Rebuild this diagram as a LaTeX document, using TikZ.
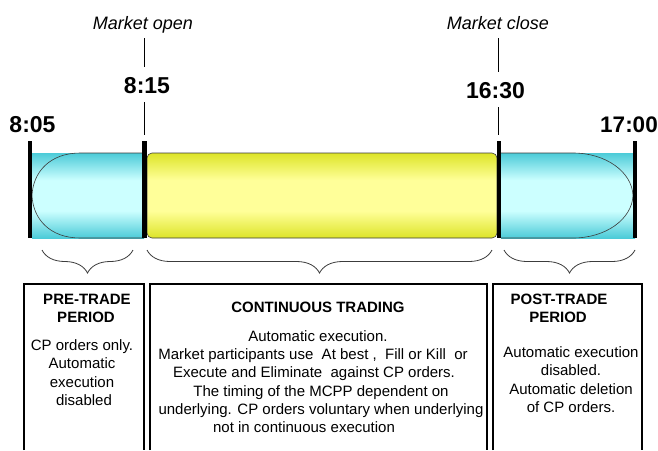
\documentclass[tikz,border=0pt]{standalone}
\usepackage{fontspec}
\setmainfont{Liberation Sans}
\usetikzlibrary{decorations.pathreplacing}

\definecolor{cyanedge}{HTML}{4CCBD8}
\definecolor{cyanlight}{HTML}{CCFFFF}
\definecolor{yellowedge}{HTML}{DDE428}
\definecolor{yellowlight}{HTML}{FFFF99}
\definecolor{rimgray}{HTML}{3C3C3C}

% bands that are darker at the top and bottom edges and light in the middle
% (a shaded path covers the 25bp--75bp part of the shading)
\pgfdeclareverticalshading{cyanband}{100bp}{color(0bp)=(cyanedge); color(25bp)=(cyanedge); color(41bp)=(cyanlight); color(59bp)=(cyanlight); color(75bp)=(cyanedge); color(100bp)=(cyanedge)}
\pgfdeclareverticalshading{yellowband}{100bp}{color(0bp)=(yellowedge); color(25bp)=(yellowedge); color(41bp)=(yellowlight); color(59bp)=(yellowlight); color(75bp)=(yellowedge); color(100bp)=(yellowedge)}

\begin{document}
\begin{tikzpicture}[x=1pt,y=-1pt,
  timelbl/.style={font=\bfseries\fontsize{23}{23}\selectfont, inner sep=0pt, anchor=base},
  marketlbl/.style={font=\itshape\fontsize{18}{18}\selectfont, inner sep=0pt, anchor=base},
  headlbl/.style={font=\bfseries\fontsize{15}{18}\selectfont, inner sep=0pt, anchor=base},
  bodylbl/.style={font=\fontsize{15}{18}\selectfont, inner sep=0pt, anchor=base},
  tickline/.style={line width=0.9pt},
  barline/.style={line width=4.5pt},
  rim/.style={draw=rimgray, line width=0.6pt},
  panel/.style={line width=1.2pt},
  bracket/.style={draw=rimgray, line width=0.8pt, decorate,
    decoration={brace, mirror, amplitude=23pt}}
]
\useasboundingbox (0,0) rectangle (658,450);

% market open / close markers
\node[marketlbl] (mopen)  at (143,29) {Market open};
\node[marketlbl] (mclose) at (498,29) {Market close};
\coordinate (openA) at (144,38);  \coordinate (openB) at (144,67);
\coordinate (openC) at (144,102); \coordinate (openD) at (144,135);
\coordinate (closeA) at (498,38);  \coordinate (closeB) at (498,72);
\coordinate (closeC) at (498,107); \coordinate (closeD) at (498,135);
\draw[tickline] (openA) -- (openB);
\draw[tickline] (openC) -- (openD);
\draw[tickline] (closeA) -- (closeB);
\draw[tickline] (closeC) -- (closeD);

% times
\node[timelbl] (t805)  at (32.5,132) {8:05};
\node[timelbl] (t815)  at (147,93)   {8:15};
\node[timelbl] (t1630) at (495.5,98) {16:30};
\node[timelbl, font=\bfseries\fontsize{22.5}{22.5}\selectfont] (t1700) at (629,132) {17:00};

% pre-trade band
\shade[shading=cyanband] (32,153) rectangle (144,238);
\draw[rim] (144,153) -- (80,153) .. controls (50,153) and (33,172) .. (32,195.5)
  .. controls (33,219) and (50,238) .. (80,238) -- (144,238);

% continuous trading band
\shade[shading=yellowband, rounded corners=5pt] (147,153) rectangle (497,238);
\draw[rim, rounded corners=5pt] (147,153) rectangle (497,238);

% post-trade band
\shade[shading=cyanband] (501,153) rectangle (635,238);
\draw[rim] (501,153) -- (573,153) .. controls (606,153) and (632,172) .. (633,195.5)
  .. controls (632,219) and (606,238) .. (573,238) -- (501,238);

% period boundaries
\coordinate (b1t) at (30,141);    \coordinate (b1b) at (30,238);
\coordinate (b2t) at (144.5,141); \coordinate (b2b) at (144.5,238);
\coordinate (b3t) at (499,141);   \coordinate (b3b) at (499,238);
\coordinate (b4t) at (635,141);   \coordinate (b4b) at (635,238);
\draw[barline] (b1t) -- (b1b);
\draw[barline] (b2t) -- (b2b);
\draw[barline] (b3t) -- (b3b);
\draw[barline] (b4t) -- (b4b);

% braces under the periods
\coordinate (brA1) at (42,250);  \coordinate (brA2) at (133,250);
\coordinate (brB1) at (147,250); \coordinate (brB2) at (492,250);
\coordinate (brC1) at (504,250); \coordinate (brC2) at (635,250);
\draw[bracket] (brA1) -- (brA2);
\draw[bracket] (brB1) -- (brB2);
\draw[bracket] (brC1) -- (brC2);

% description panels, open at the bottom
\draw[panel] (24,450) -- (24,284) -- (144,284) -- (144,450);
\draw[panel] (150,450) -- (150,284) -- (487,284) -- (487,450);
\draw[panel] (493,450) -- (493,284) -- (642,284) -- (642,450);

% pre-trade text
\node[headlbl] (preA) at (87,304) {PRE-TRADE};
\node[headlbl] (preB) at (86,322) {PERIOD};
\node[bodylbl] (pre1) at (82,350) {CP orders only.};
\node[bodylbl] (pre2) at (82,368) {Automatic};
\node[bodylbl] (pre3) at (82,387) {execution};
\node[bodylbl] (pre4) at (84,405) {disabled};

% continuous trading text
\node[headlbl] (ctA) at (318,312) {CONTINUOUS TRADING};
\node[bodylbl] (ct1) at (318,341) {Automatic execution.};
\node[bodylbl] (ct2) at (313,359) {Market participants use\ \ At best\ ,\ \ Fill or Kill\ \ or};
\node[bodylbl] (ct3) at (314,377) {Execute and Eliminate\ \ against CP orders.};
\node[bodylbl] (ct4) at (321,396) {The timing of the MCPP dependent on};
\node[bodylbl] (ct5) at (321,414) {underlying. CP orders voluntary when underlying};
\node[bodylbl] (ct6) at (304,432) {not in continuous execution};

% post-trade text
\node[headlbl] (postA) at (559,304) {POST-TRADE};
\node[headlbl] (postB) at (558,322) {PERIOD};
\node[bodylbl] (post1) at (571,357) {Automatic execution};
\node[bodylbl] (post2) at (571,375) {disabled.};
\node[bodylbl] (post3) at (571,394) {Automatic deletion};
\node[bodylbl] (post4) at (571,412) {of CP orders.};
\end{tikzpicture}
\end{document}
